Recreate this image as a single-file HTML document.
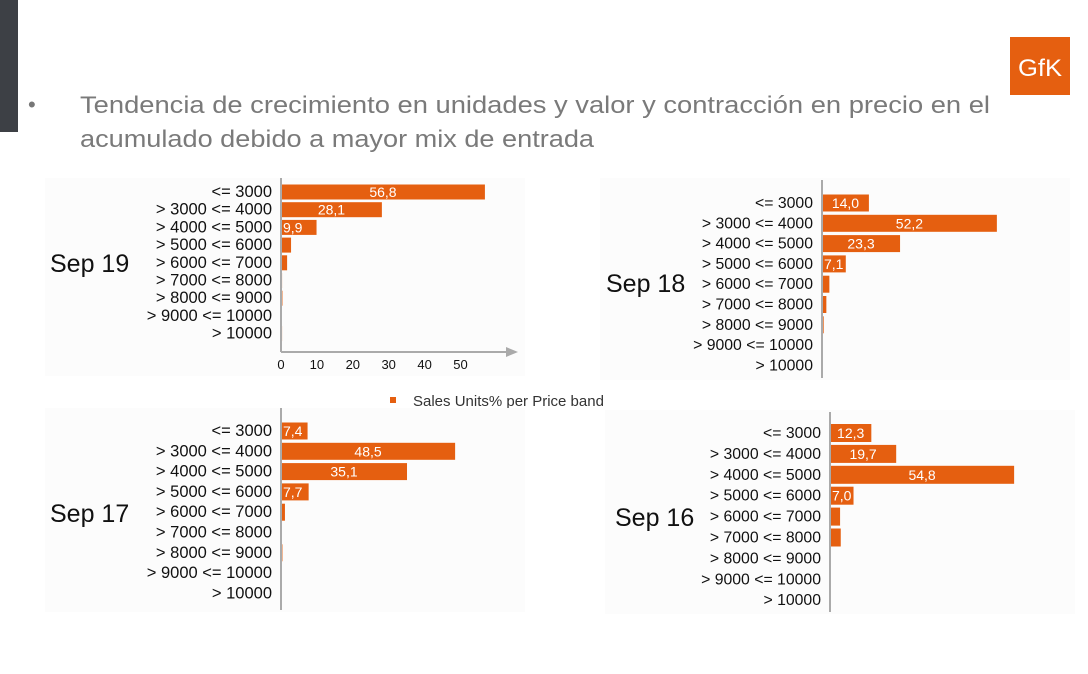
<!DOCTYPE html>
<html><head><meta charset="utf-8"><style>
html,body{margin:0;padding:0;background:#fff;}
svg{display:block;font-family:"Liberation Sans",sans-serif;}
</style></head><body>
<svg id="s" width="1088" height="674" viewBox="0 0 1088 674">
<rect x="0" y="0" width="18" height="132" fill="#3d4045"/>
<g>
<rect x="1010" y="37" width="60" height="58" fill="#e55f10"/>
<text x="1040" y="76" font-size="24" fill="#fff" text-anchor="middle" textLength="44" lengthAdjust="spacingAndGlyphs">GfK</text>
</g>
<text x="28" y="112" font-size="22" fill="#777">•</text>
<text x="80" y="113" font-size="24" fill="#7a7a7a" textLength="910" lengthAdjust="spacingAndGlyphs">Tendencia de crecimiento en unidades y valor y contracción en precio en el</text>
<text x="80" y="147" font-size="24" fill="#7a7a7a" textLength="514" lengthAdjust="spacingAndGlyphs">acumulado debido a mayor mix de entrada</text>
<g>
<rect x="390" y="397" width="6" height="6" fill="#e55f10"/>
<text x="413" y="406" font-size="15" fill="#333">Sales Units% per Price band</text>
</g>
<text x="1012" y="605" font-size="9" fill="#999" text-anchor="end">© GfK</text>
</svg>
<script>
const categories=["<= 3000","> 3000 <= 4000","> 4000 <= 5000","> 5000 <= 6000","> 6000 <= 7000","> 7000 <= 8000","> 8000 <= 9000","> 9000 <= 10000","> 10000"];
const sep19=[56.8,28.1,9.9,2.8,1.7,0.3,0.4,0.1,0.3];
const sep18=[14.0,52.2,23.3,7.1,2.2,1.3,0.5,0.1,0.1];
const sep17=[7.4,48.5,35.1,7.7,1.1,0.2,0.4,0.1,0.1];
const sep16=[12.3,19.7,54.8,7.0,3.0,3.2,0,0,0];
const xTicks=[0,10,20,30,40,50];
const NS="http://www.w3.org/2000/svg";
const svg=document.getElementById('s');
function mk(tag,attrs,parent){const e=document.createElementNS(NS,tag);for(const k in attrs)e.setAttribute(k,attrs[k]);(parent||svg).appendChild(e);return e;}
function chart(cfg){
  const g=mk('g',{});
  
  
  mk('rect',{x:cfg.bx,y:cfg.by,width:cfg.bw,height:cfg.bh,fill:'#fcfcfc'},g);
  const xs=v=>cfg.ax+v*cfg.scale;
  const ys=i=>cfg.y0+i*cfg.step;
  const lab=mk('text',{x:cfg.lx,y:cfg.ly,'font-size':25,fill:'#111'},g);
  lab.textContent=cfg.title;
  
  
  categories.forEach((c,i)=>{
    const t=mk('text',{x:cfg.ax-9,y:ys(i)+5,'font-size':cfg.fs,fill:'#111','text-anchor':'end'},g);
    t.textContent=c;
    
    
    const v=cfg.data[i];
    if(v>0){
      const r=mk('rect',{x:cfg.ax,y:ys(i)-cfg.bar/2,width:Math.max(xs(v)-cfg.ax,1),height:cfg.bar,fill:'#e55f10'},g);
      
      
    }
    if(v>=5){
      const vt=mk('text',{x:v<10?cfg.ax+2:(cfg.ax+xs(v))/2,y:ys(i)+5,'font-size':14,fill:'#fff','text-anchor':v<10?'start':'middle'},g);
      vt.textContent=v.toFixed(1).replace('.',',');
      
      
    }
  });
  mk('line',{x1:cfg.ax,y1:cfg.top,x2:cfg.ax,y2:cfg.bot,stroke:'#aaa','stroke-width':2},g);
  if(cfg.xaxis){
    mk('line',{x1:cfg.ax,y1:cfg.bot,x2:510,y2:cfg.bot,stroke:'#aaa','stroke-width':2},g);
    mk('polygon',{points:`506,${cfg.bot-5} 518,${cfg.bot} 506,${cfg.bot+5}`,fill:'#aaa'},g);
    xTicks.forEach(t=>{
      const tt=mk('text',{x:xs(t),y:cfg.bot+17,'font-size':13,fill:'#111','text-anchor':'middle'},g);
      tt.textContent=t;
      
      
    });
  }
}
chart({name:'chart-sep19',title:'Sep 19',data:sep19,ax:281,scale:3.59,y0:192,step:17.7,bar:15,top:178,bot:352,lx:50,ly:272,xaxis:true,bx:45,by:178,bw:480,bh:198,fs:16.5});
chart({name:'chart-sep18',title:'Sep 18',data:sep18,ax:822,scale:3.35,y0:203,step:20.3,bar:17,top:180,bot:378,lx:606,ly:292,xaxis:false,bx:600,by:178,bw:470,bh:202,fs:15.8});
chart({name:'chart-sep17',title:'Sep 17',data:sep17,ax:281,scale:3.59,y0:431,step:20.3,bar:17,top:408,bot:610,lx:50,ly:522,xaxis:false,bx:45,by:408,bw:480,bh:204,fs:16.5});
chart({name:'chart-sep16',title:'Sep 16',data:sep16,ax:830,scale:3.36,y0:433,step:20.9,bar:18,top:412,bot:612,lx:615,ly:526,xaxis:false,bx:605,by:410,bw:470,bh:204,fs:15.8});
</script>
</body></html>
